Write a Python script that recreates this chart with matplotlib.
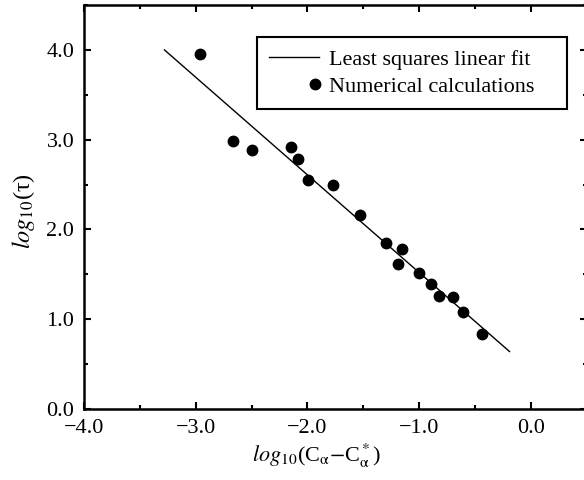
import matplotlib
matplotlib.use('Agg')
import matplotlib.pyplot as plt
from matplotlib.legend_handler import HandlerLine2DCompound
import numpy as np

# Data
log_c = [-2.96, -2.67, -2.50, -2.15, -2.08, -1.99, -1.77, -1.53, -1.30,
         -1.15, -1.19, -1.00, -0.89, -0.82, -0.70, -0.61, -0.44]
log_tau = [3.95, 2.99, 2.89, 2.92, 2.78, 2.55, 2.50, 2.16, 1.85,
           1.78, 1.62, 1.51, 1.39, 1.26, 1.25, 1.08, 0.83]

# least squares line end points
fit_x = [-3.28, -0.19]
fit_y = [4.00, 0.64]

x_ticks = [-4.0, -3.0, -2.0, -1.0, 0.0]
y_ticks = [0.0, 1.0, 2.0, 3.0, 4.0]

plt.rcParams['font.family'] = ['Liberation Serif', 'DejaVu Serif']
plt.rcParams['mathtext.fontset'] = 'stix'
plt.rcParams['font.size'] = 16


class RightMarkerHandler(HandlerLine2DCompound):
    # put the legend dot at the right end of the handle, like the original
    def get_xdata(self, legend, xdescent, ydescent, width, height, fontsize):
        xdata = np.array([-xdescent, -xdescent + width])
        return xdata, np.array([-xdescent + width - 3])


fig = plt.figure(figsize=(5.84, 4.8), dpi=100)
ax = fig.add_axes([84 / 584, 1 - 409 / 480, 502.6 / 584, 404 / 480])

line_fit, = ax.plot(fit_x, fit_y, color='black', linewidth=1.0,
                    label='Least squares linear fit')
pts, = ax.plot(log_c, log_tau, linestyle='none', marker='o', color='black',
               markersize=7.5, label='Numerical calculations')

ax.set_xlim(-4.0, 0.5)
ax.set_ylim(0.0, 4.5)
ax.set_xticks(x_ticks)
ax.set_yticks(y_ticks)
ax.set_xticklabels(['\u22124.0', '\u22123.0', '\u22122.0', '\u22121.0', '0.0'])
ax.set_yticklabels(['0.0', '1.0', '2.0', '3.0', '4.0'])
ax.set_xticks(np.arange(-4.0, 0.51, 0.5), minor=True)
ax.set_yticks(np.arange(0.0, 4.51, 0.5), minor=True)
ax.tick_params(which='both', direction='in', top=True, right=True, width=1.5)
ax.tick_params(which='major', length=5, pad=7)
ax.tick_params(which='minor', length=3)
for sp in ax.spines.values():
    sp.set_linewidth(1.8)

ax.set_xlabel(r'$\mathit{log}_{10}$(C$_\mathrm{\alpha}$$-$C$^*_\mathrm{\alpha}$)')
ax.xaxis.set_label_coords(0.4636, -0.08)
ax.set_ylabel(r'$\mathit{log}_{10}$(τ)', fontsize=17.5)
ax.yaxis.set_label_coords(-0.094, 0.49)

leg = ax.legend(handles=[line_fit, pts], loc='upper left',
                bbox_to_anchor=(0.344, 0.5, 0.617, 0.421), mode='expand',
                borderaxespad=0, fancybox=False, edgecolor='black',
                framealpha=1, handlelength=2.25, handletextpad=0.45,
                labelspacing=0.3, borderpad=0.55, numpoints=1,
                handler_map={pts: RightMarkerHandler()})
leg.get_frame().set_linewidth(1.5)

plt.savefig('out.png', dpi=100)
